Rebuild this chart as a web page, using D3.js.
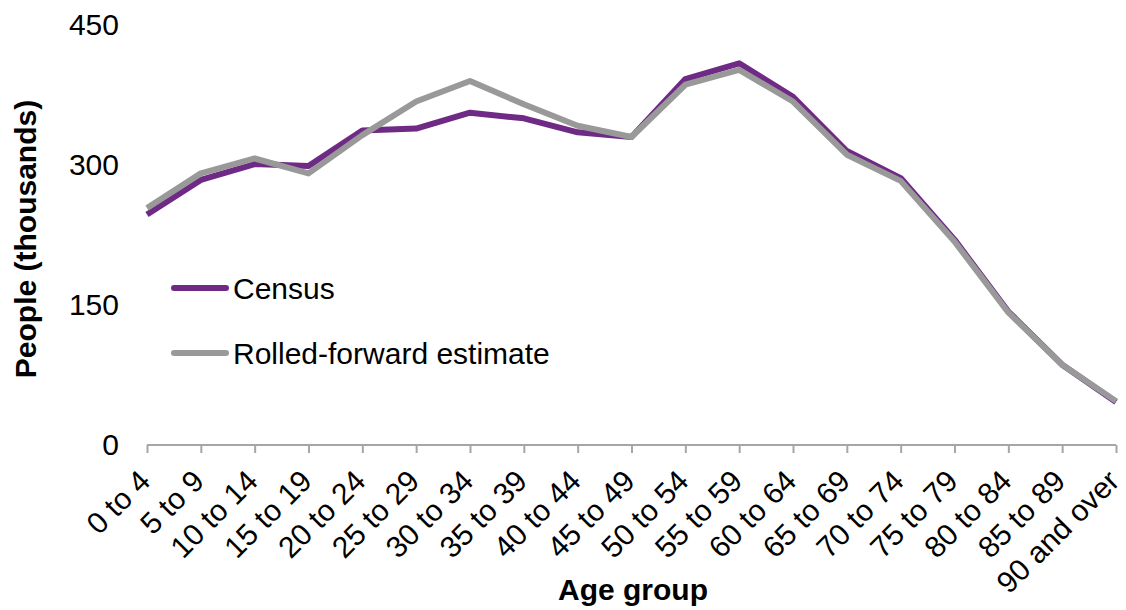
<!DOCTYPE html>
<html>
<head>
<meta charset="utf-8">
<script src="https://cdn.jsdelivr.net/npm/d3@7"></script>
<style>
  html, body { margin: 0; padding: 0; background: #fff; }
  svg { display: block; font-family: "Liberation Sans", Arial, sans-serif; }
</style>
</head>
<body>
<svg id="chart" width="1126" height="610"></svg>
<script>
// Age groups along the x axis
const ageGroups = ["0 to 4", "5 to 9", "10 to 14", "15 to 19", "20 to 24", "25 to 29",
  "30 to 34", "35 to 39", "40 to 44", "45 to 49", "50 to 54", "55 to 59", "60 to 64",
  "65 to 69", "70 to 74", "75 to 79", "80 to 84", "85 to 89", "90 and over"];

// People (thousands) per age group
const census = [247, 284, 301, 299, 337, 339, 356, 350, 335, 330, 392, 409, 373,
  315, 286, 220, 143, 86, 46];
const rolledForward = [254, 291, 307, 291, 332, 368, 390, 365, 342, 330, 386, 402, 368,
  311, 283, 218, 142, 86, 47];

const yTicks = [0, 150, 300, 450];
const seriesNames = ["Census", "Rolled-forward estimate"];
const seriesColors = ["#6e2a84", "#999999"];

const svg = d3.select("#chart");
const plotLeft = 147, plotRight = 1116, plotTop = 25, plotBottom = 445;

const x = d3.scalePoint().domain(ageGroups).range([plotLeft, plotRight]);
const y = d3.scaleLinear().domain([0, 450]).range([plotBottom, plotTop]);

// x axis: baseline with downward ticks at each age group
const xAxis = svg.append("g").attr("transform", `translate(0,${plotBottom})`)
  .call(d3.axisBottom(x).tickSize(8).tickSizeOuter(0).tickFormat(""));
xAxis.select(".domain").attr("stroke", "#a6a6a6").attr("stroke-width", 2)
  .attr("d", `M${plotLeft},0H${plotRight}`);
xAxis.selectAll(".tick line").attr("stroke", "#a6a6a6").attr("stroke-width", 2);

// rotated age-group labels
svg.append("g").selectAll("text").data(ageGroups).join("text")
  .attr("transform", d => `translate(${x(d) + 5},${plotBottom + 38}) rotate(-45)`)
  .attr("text-anchor", "end")
  .attr("font-size", 30)
  .attr("fill", "#000")
  .text(d => d);

// y axis labels only (no axis line)
const yAxis = svg.append("g").attr("transform", `translate(119,0)`)
  .call(d3.axisLeft(y).tickValues(yTicks).tickSize(0).tickPadding(0));
yAxis.select(".domain").remove();
yAxis.selectAll("text").attr("font-size", 30).attr("fill", "#000")
  .attr("font-family", "Liberation Sans, Arial, sans-serif");

// axis titles
svg.append("text")
  .attr("transform", `translate(36,239) rotate(-90)`)
  .attr("text-anchor", "middle")
  .attr("font-size", 30).attr("font-weight", "bold")
  .text("People (thousands)");
svg.append("text")
  .attr("x", 633).attr("y", 600)
  .attr("text-anchor", "middle")
  .attr("font-size", 30).attr("font-weight", "bold")
  .text("Age group");

// series lines
const line = d3.line().x((d, i) => x(ageGroups[i])).y(d => y(d));
[census, rolledForward].forEach((vals, k) => {
  svg.append("path")
    .datum(vals)
    .attr("fill", "none")
    .attr("stroke", seriesColors[k])
    .attr("stroke-width", 6)
    .attr("stroke-linejoin", "round")
    .attr("d", line);
});

// legend
const legend = svg.append("g");
seriesNames.forEach((name, k) => {
  const ly = 288 + k * 65;
  legend.append("line")
    .attr("x1", 174).attr("x2", 226).attr("y1", ly).attr("y2", ly)
    .attr("stroke", seriesColors[k]).attr("stroke-width", 6)
    .attr("stroke-linecap", "round");
  legend.append("text")
    .attr("x", 233).attr("y", ly + 11)
    .attr("font-size", 30).attr("fill", "#000")
    .text(name);
});
</script>
</body>
</html>
